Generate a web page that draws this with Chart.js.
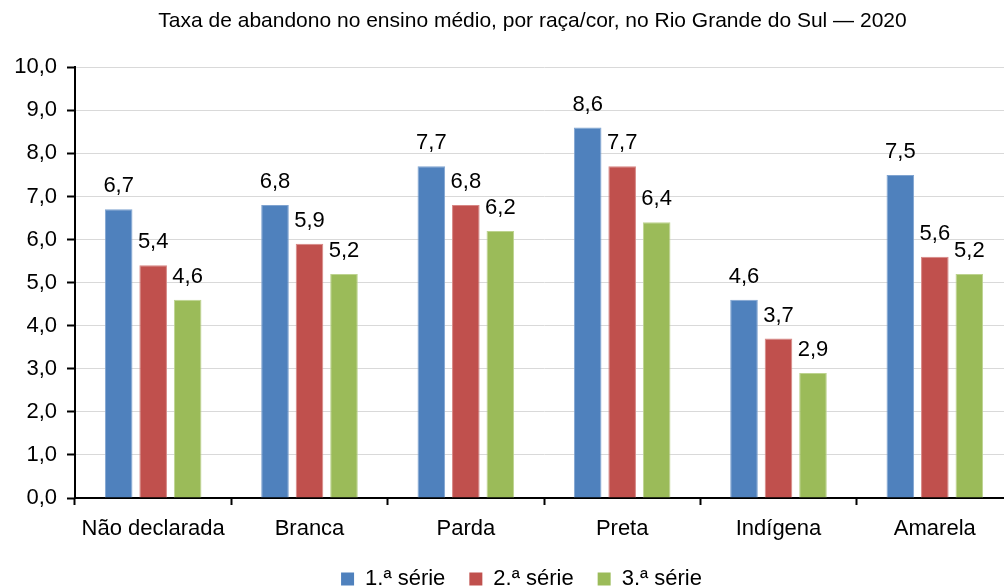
<!DOCTYPE html>
<html>
<head>
<meta charset="utf-8">
<script src="https://cdn.jsdelivr.net/npm/chart.js@4/dist/chart.umd.min.js"></script>
<style>
  html, body { margin: 0; padding: 0; background: #fff; overflow: hidden; }
  .wrap { position: relative; width: 1016px; height: 588px; }
</style>
</head>
<body>
<div class="wrap"><canvas id="myChart"></canvas></div>
<script>
const categories = ['Não declarada', 'Branca', 'Parda', 'Preta', 'Indígena', 'Amarela'];
const serie1 = [6.7, 6.8, 7.7, 8.6, 4.6, 7.5];
const serie2 = [5.4, 5.9, 6.8, 7.7, 3.7, 5.6];
const serie3 = [4.6, 5.2, 6.2, 6.4, 2.9, 5.2];
const seriesLabels = ['1.ª série', '2.ª série', '3.ª série'];
const titleText = 'Taxa de abandono no ensino médio, por raça/cor, no Rio Grande do Sul — 2020';

const fontFamily = '"Liberation Sans", Arial, sans-serif';

function fmt(v) {
  return v.toFixed(1).replace('.', ',');
}

// value labels above each bar
const valueLabels = {
  id: 'valueLabels',
  afterDatasetsDraw(chart) {
    const ctx = chart.ctx;
    ctx.save();
    ctx.font = '22px ' + fontFamily;
    ctx.fillStyle = '#000';
    ctx.textAlign = 'center';
    ctx.textBaseline = 'middle';
    chart.data.datasets.forEach((ds, i) => {
      const meta = chart.getDatasetMeta(i);
      meta.data.forEach((bar, j) => {
        ctx.fillText(fmt(ds.data[j]), bar.x, bar.y - 23);
      });
    });
    ctx.restore();
  }
};

// nudge title and legend sideways, like in the original
const shiftBlocks = {
  id: 'shiftBlocks',
  afterLayout(chart) {
    if (chart.titleBlock) {
      chart.titleBlock.left += 26;
      chart.titleBlock.right += 26;
    }
    if (chart.legend) {
      chart.legend.left += 15;
      chart.legend.right += 15;
    }
  }
};

function mainEvent() {
  const ctx = document.getElementById('myChart');

  const myChart = new Chart(ctx, {
    type: 'bar',
    data: {
      labels: categories,
      datasets: [
        { label: seriesLabels[0], data: serie1, backgroundColor: '#4F81BD', borderColor: '#7FA3D0', borderWidth: 1 },
        { label: seriesLabels[1], data: serie2, backgroundColor: '#C0504D', borderColor: '#D78684', borderWidth: 1 },
        { label: seriesLabels[2], data: serie3, backgroundColor: '#9BBB59', borderColor: '#BDD38F', borderWidth: 1 }
      ]
    },
    options: {
      responsive: true,
      maintainAspectRatio: false,
      animation: false,
      categoryPercentage: 0.662,
      barPercentage: 0.8,
      layout: { padding: { left: 0, right: 3, top: 0, bottom: -12 } },
      plugins: {
        title: {
          display: true,
          text: titleText,
          color: '#000',
          font: { family: fontFamily, size: 21, weight: 'normal' },
          padding: { top: 9, bottom: 33 }
        },
        legend: {
          position: 'bottom',
          labels: {
            color: '#000',
            font: { family: fontFamily, size: 22 },
            boxWidth: 13,
            boxHeight: 13,
            padding: 24,
            generateLabels(chart) {
              return chart.data.datasets.map((ds, i) => ({
                text: ds.label,
                fillStyle: ds.backgroundColor,
                strokeStyle: ds.backgroundColor,
                lineWidth: 0,
                datasetIndex: i
              }));
            }
          }
        },
        tooltip: { enabled: false }
      },
      scales: {
        x: {
          afterFit(scale) { scale.height = 46; },
          grid: {
            offset: true,
            drawOnChartArea: false,
            drawTicks: true,
            tickLength: 7,
            tickColor: '#000',
            tickWidth: 2
          },
          border: { color: '#000', width: 2 },
          ticks: {
            color: '#000',
            padding: 11,
            font: { family: fontFamily, size: 22 }
          }
        },
        y: {
          min: 0,
          max: 10,
          afterFit(scale) { scale.width = 75; },
          grid: {
            color: '#D9D9D9',
            lineWidth: 1,
            drawTicks: true,
            tickLength: 8,
            tickColor: '#000',
            tickWidth: 2
          },
          border: { color: '#000', width: 2 },
          ticks: {
            stepSize: 1,
            color: '#000',
            padding: 10,
            font: { family: fontFamily, size: 22 },
            callback: (v) => fmt(v)
          }
        }
      }
    },
    plugins: [valueLabels, shiftBlocks]
  });
}

document.addEventListener('DOMContentLoaded', () => mainEvent());
</script>
</body>
</html>
